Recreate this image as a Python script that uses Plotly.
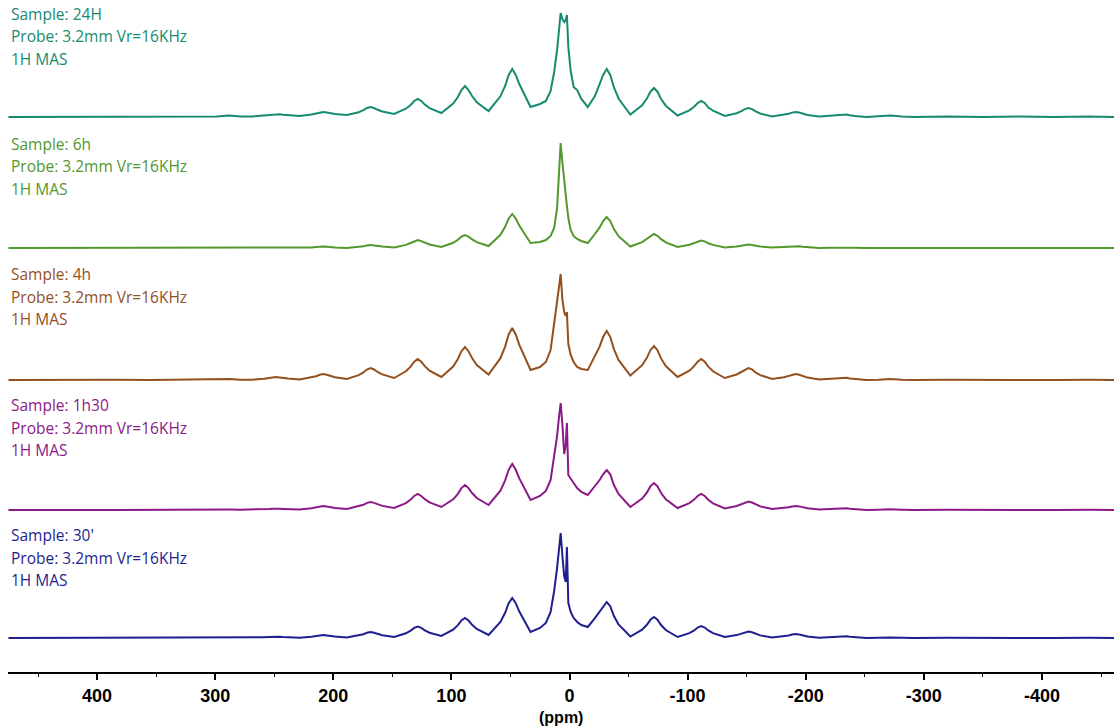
import plotly.graph_objects as go

# ---------------- data ----------------
# chemical shift grid (ppm), shared by all spectra
PPM = [475, 445, 415, 385, 355, 328.5, 298.5, 288.5, 278.5, 268.5,
       258.5, 254.5, 251.5, 248.5, 245.5, 242.5, 238.5, 228.5,
       218.5, 214.5, 211.5, 208.5, 205.5, 202.5, 198.5, 188.5,
       178.5, 174.5, 171.5, 168.5, 165.5, 162.5, 158.5, 148.5,
       138.5, 134.5, 131.5, 128.5, 125.5, 122.5, 118.5, 108.5,
       98.5, 94.5, 91.5, 88.5, 85.5, 82.5, 78.5, 68.5,
       58.5, 54.5, 51.5, 48.5, 45.5, 42.5, 38.5, 33,
       25, 20, 16, 13, 10.5, 9, 7.5, 6, 4.5, 3.2, 2.2, 1, -1, -3.5, -6.5, -10, -15.5,
       -21.5, -25.5, -28.5, -31.5, -34.5, -37.5, -41.5, -51.5,
       -61.5, -65.5, -68.5, -71.5, -74.5, -77.5, -81.5, -91.5,
       -101.5, -105.5, -108.5, -111.5, -114.5, -117.5, -121.5, -131.5,
       -141.5, -145.5, -148.5, -151.5, -154.5, -157.5, -161.5, -171.5,
       -181.5, -185.5, -188.5, -191.5, -194.5, -197.5, -201.5, -211.5,
       -221.5, -225.5, -228.5, -231.5, -234.5, -237.5, -241.5, -251.5,
       -261.5, -271.5, -281.5, -291.5, -320, -350, -380, -410, -440, -461]

I_24H = [0, 0, 0.5, 0, 0.5, 0.5, 0.5, 1.5, 0.5, 0.5,
         1.4, 2.0, 2.7, 3, 2.7, 2.2, 1.7, 1,
         2.4, 3.4, 4.6, 5, 4.6, 3.8, 3.0, 2,
         4.8, 6.8, 9.0, 10, 9.0, 7.2, 5.5, 3,
         8.3, 12, 16, 18, 16, 12.4, 8.9, 4,
         13.5, 20, 27, 31, 27, 21, 14.8, 6,
         20.7, 31, 42, 48, 42, 33, 23, 10,
         13, 16, 26, 45, 67, 85, 104, 98, 95, 97, 102, 70, 46, 30, 27, 18, 10,
         21, 33, 42, 48, 42, 30, 18.5, 2.5,
         11.8, 18.4, 25.3, 29, 25.3, 18, 11.3, 1.5,
         6.6, 10.2, 14, 16, 14, 9.4, 6.3, 1,
         3.8, 5.8, 7.9, 9, 7.9, 5.6, 3.5, 0.5,
         2.1, 3.2, 4.4, 5, 4.4, 3.2, 2.1, 0.5,
         1.4, 2, 2.6, 3, 2.6, 1.8, 1, 0,
         0.5, 1.5, 0.5, 0, 0.5, 0, 0.5, 0, 0.5, 0]

I_6H = [0, 0, 0, 0.3, 0, 0, 0, 0.3, 0, 0,
        0.2, 0.3, 0.4, 0.5, 0.4, 0.3, 0.2, 0,
        0.5, 0.9, 1.3, 1.5, 1.3, 0.9, 0.5, 0,
        1, 1.8, 2.6, 3, 2.6, 2, 1.4, 0.5,
        3.1, 5, 6.9, 8, 6.9, 5.2, 3.5, 1,
        5.2, 8.2, 11.3, 13, 11.3, 8.6, 5.9, 2,
        13.2, 21.2, 29.5, 34, 29.5, 22.4, 15.2, 5,
        6, 8, 12, 20, 40, 70, 105, 85, 65, 52, 42, 30, 18, 12, 9, 7, 5,
        14, 20.6, 27, 31, 27, 19.2, 11.8, 1.5,
        5.9, 9, 12.2, 14, 12.2, 8.8, 5.6, 1,
        3.3, 4.9, 6.6, 7.5, 6.6, 4.7, 3.1, 0.5,
        1.5, 2.3, 3.1, 3.5, 3.1, 2.3, 1.5, 0.5,
        1, 1.4, 1.8, 2, 1.8, 1.2, 0.7, 0,
        0.2, 0.3, 0.4, 0.5, 0.4, 0.3, 0.2, 0,
        0, 0.3, 0, 0, 0, 0.3, 0, 0, 0.3, 0]

I_4H = [0, 0.3, 0, 0.3, 0, 0.3, 0.3, 1, 0.3, 0.3,
        1.2, 1.9, 2.6, 3, 2.6, 2, 1.4, 0.5,
        2.4, 3.8, 5.2, 6, 5.2, 4, 2.8, 1,
        4.9, 7.6, 10.5, 12, 10.5, 8, 5.6, 2,
        8.7, 13.4, 18.4, 21, 18.4, 13.8, 9.3, 3,
        13.5, 21, 28.8, 33, 28.8, 22, 15, 5.5,
        21.8, 33.4, 45.5, 52, 45.5, 35.2, 24.7, 10,
        13, 18, 30, 55, 75, 92, 106, 80, 68, 64, 68, 36, 25, 18, 13, 11, 10,
        23.7, 33.4, 43.2, 49, 43.2, 31.2, 20.1, 4.5,
        14.8, 22.2, 29.8, 34, 29.8, 21.6, 13.9, 3,
        9.3, 13.8, 18.4, 21, 18.4, 13.4, 8.7, 2,
        5.5, 8, 10.6, 12, 10.6, 7.6, 4.9, 1,
        2.8, 4, 5.2, 6, 5.2, 3.8, 2.4, 0.5,
        1.2, 1.7, 2.2, 2.5, 2.2, 1.5, 0.9, 0,
        0.3, 1, 0.3, 0, 0.3, 0, 0.3, 0, 0.3, 0]

I_1H30 = [0, 0.3, 0, 0, 0.3, 0, 0.3, 0.5, 0.3, 0.3,
          0.7, 1, 1.3, 1.5, 1.3, 1.1, 0.9, 0.5,
          1.7, 2.6, 3.6, 4, 3.6, 2.8, 2.1, 1,
          3.5, 5.2, 7.1, 8, 7.1, 5.6, 4.1, 2,
          6.9, 10.4, 14, 16, 14, 10.8, 7.6, 3,
          10.7, 16.2, 21.9, 25, 21.9, 17, 12, 5,
          19.4, 29.6, 40.2, 46, 40.2, 31.6, 22.6, 10,
          14, 19, 30, 52, 74, 92, 107, 85, 56, 65, 87, 35, 31, 27, 22, 18, 15,
          23.8, 30, 35.7, 40, 35.7, 25.2, 16, 3,
          11.4, 17.4, 23.7, 27, 23.7, 17, 10.8, 2,
          6.9, 10.4, 14, 16, 14, 10.2, 6.6, 1.5,
          4, 5.7, 7.5, 8.5, 7.5, 5.5, 3.6, 1,
          2, 2.8, 3.6, 4, 3.6, 2.6, 1.7, 0.5,
          1, 1.4, 1.8, 2, 1.8, 1.2, 0.7, 0,
          0.3, 0.8, 0.3, 0, 0.3, 0, 0.3, 0, 0.3, 0]

I_30MIN = [0, 0, 0.3, 0, 0, 0.3, 0, 0.3, 0, 0,
           0.7, 1, 1.3, 1.5, 1.3, 1, 0.7, 0.3,
           1.2, 1.9, 2.6, 3, 2.6, 2, 1.4, 0.5,
           2.4, 3.8, 5.2, 6, 5.2, 4, 2.8, 1,
           4.7, 7.3, 10.1, 11.5, 10.1, 7.7, 5.3, 2,
           8.3, 12.8, 17.5, 20, 17.5, 13.2, 9, 3,
           16, 25.2, 34.8, 40, 34.8, 26.4, 18.1, 6,
           10, 15, 26, 47, 70, 88, 105, 82, 62, 56, 91, 35, 26, 20, 16, 13, 11,
           19.8, 26, 31.8, 36, 31.8, 22.2, 13.5, 1.5,
           8.3, 13.2, 18.2, 21, 18.2, 13, 8, 1,
           4.9, 7.6, 10.5, 12, 10.5, 7.6, 4.9, 1,
           2.9, 4.3, 5.7, 6.5, 5.7, 4.1, 2.6, 0.5,
           1.7, 2.6, 3.5, 4, 3.5, 2.5, 1.6, 0.3,
           0.9, 1.3, 1.7, 2, 1.7, 1.2, 0.7, 0,
           0.2, 0.6, 0.2, 0, 0.2, 0, 0.2, 0, 0.2, 0]

SAMPLES = ["24H", "6h", "4h", "1h30", "30'"]
PROBE_TEXT = "Probe: 3.2mm Vr=16KHz"
EXPERIMENT_TEXT = "1H MAS"
TICK_VALS = [400, 300, 200, 100, 0, -100, -200, -300, -400]
TICK_LABELS = ["400", "300", "200", "100", "0", "-100", "-200", "-300", "-400"]
X_TITLE = "(ppm)"

# ---------------- styling / layout ----------------
SPECTRA = [I_24H, I_6H, I_4H, I_1H30, I_30MIN]
COLORS = ["#178a6f", "#52982c", "#93501f", "#8b1a86", "#1f1f8e"]
OFFSETS = [555, 424, 292, 162, 34]          # vertical stacking offsets
LABEL_Y = [658.5, 528.5, 398, 267, 137]     # y of first label line

fig = go.Figure()
for inten, col, off in zip(SPECTRA, COLORS, OFFSETS):
    fig.add_trace(go.Scatter(
        x=PPM[:len(inten)], y=[v + off for v in inten],
        mode="lines", line=dict(color=col, width=2),
        hoverinfo="skip", showlegend=False))

annotations = []
for name, col, ly in zip(SAMPLES, COLORS, LABEL_Y):
    for k, txt in enumerate(["Sample: " + name, PROBE_TEXT, EXPERIMENT_TEXT]):
        annotations.append(dict(
            xref="paper", yref="y", x=0.0018, y=ly - 22.5 * k,
            xanchor="left", yanchor="middle", showarrow=False,
            borderpad=0,
            text=txt, font=dict(family="Open Sans, sans-serif", size=15.5, color=col)))
annotations.append(dict(
    xref="paper", yref="paper", x=0.5, y=0, yshift=-45,
    xanchor="center", yanchor="middle", showarrow=False,
    text="<b>" + X_TITLE + "</b>",
    font=dict(family="Liberation Sans, Arial, sans-serif", size=16, color="black")))

fig.update_layout(
    width=1114, height=728,
    margin=dict(l=8, r=0, t=0, b=56),
    paper_bgcolor="white", plot_bgcolor="white",
    annotations=annotations,
    xaxis=dict(
        range=[475.4, -461], showgrid=False, zeroline=False,
        showline=True, linecolor="black", linewidth=2,
        tickmode="array", tickvals=TICK_VALS,
        ticktext=["<b>" + t + "</b>" for t in TICK_LABELS],
        ticks="outside", ticklen=6, tickwidth=1.5, tickcolor="black",
        tickfont=dict(family="Liberation Sans, Arial, sans-serif", size=18, color="black"),
        minor=dict(ticks="outside", ticklen=3, tickwidth=1, tickcolor="black",
                   dtick=50, tick0=0, showgrid=False),
    ),
    yaxis=dict(range=[0, 672], visible=False, showgrid=False, zeroline=False,
               fixedrange=True),
)

# remove the default page margin so the figure fills the window exactly
fig.write_html("out.html", config={"displayModeBar": False},
               post_script="document.body.style.margin='0';")
